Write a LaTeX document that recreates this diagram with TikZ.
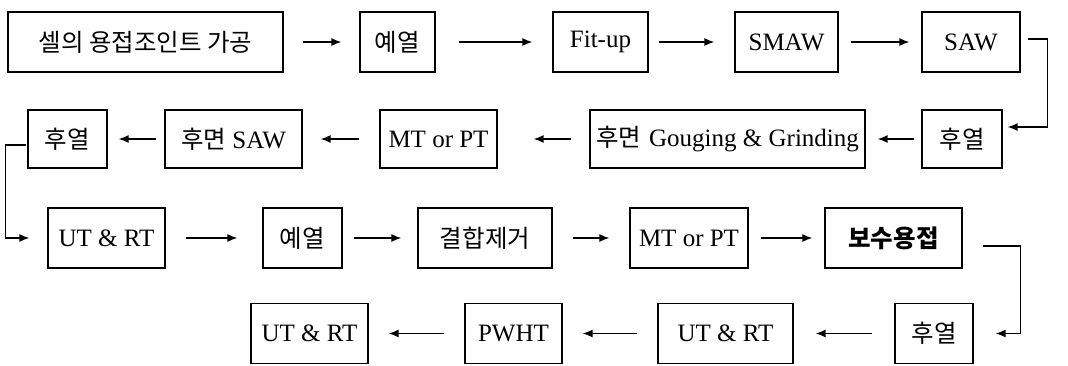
\documentclass[tikz,border=0pt]{standalone}
\usepackage{fontspec}
\setmainfont{Liberation Serif}
\newfontfamily\krfont[Scale=0.98]{Noto Sans CJK KR}
\usepackage{tikz}
\usetikzlibrary{arrows.meta,positioning}
\newcommand{\kor}[1]{{\krfont #1}}

\tikzset{
  stage/.style={draw, line width=1.2pt, inner sep=0pt, align=center,
    minimum height=60, font=\fontsize{25}{27}\selectfont},
  flow/.style={line width=1.5pt, -{Latex[length=10pt,width=8pt]}}
}

\begin{document}
\begin{tikzpicture}[x=1pt,y=-1pt]

\useasboundingbox (0,0) rectangle (1068,365);

% row 1
\node[stage, minimum width=275] (cut)   at (145.5,42) {\kor{셀의 용접조인트 가공}};
\node[stage, minimum width=75]  (pre1)  at (397.5,42) {\kor{예열}};
\node[stage, minimum width=95]  (fit)   at (600.5,42) {Fit-up};
\node[stage, minimum width=103] (smaw)  at (786.5,42) {SMAW};
\node[stage, minimum width=98]  (saw)   at (971,42)   {SAW};

% row 2
\node[stage, minimum width=80, minimum height=58]  (post1) at (962,139)   {\kor{후열}};
\node[stage, minimum width=275, minimum height=58] (goug)  at (727.5,139) {\kor{후면}\hspace{8pt}Gouging \& Grinding};
\node[stage, minimum width=117, minimum height=58] (mtpt1) at (438.5,139) {MT or PT};
\node[stage, minimum width=137, minimum height=58] (bsaw)  at (233.5,139) {\kor{후면} SAW};
\node[stage, minimum width=79, minimum height=58]  (post2) at (67.5,139)  {\kor{후열}};

% row 3
\node[stage, minimum width=117] (utrt1)  at (106.5,238) {UT \& RT};
\node[stage, minimum width=79]  (pre2)   at (302.5,238) {\kor{예열}};
\node[stage, minimum width=134] (defect) at (485,238)   {\kor{결합제거}};
\node[stage, minimum width=118] (mtpt2)  at (689,238)   {MT or PT};
\node[stage, minimum width=137] (repair) at (893.5,238) {\kor{\bfseries 보수용접}};

% row 4
\node[stage, minimum width=78]  (post3) at (934,333.5)   {\kor{후열}};
\node[stage, minimum width=135] (utrt2) at (725.5,333.5) {UT \& RT};
\node[stage, minimum width=97]  (pwht)  at (513.5,333.5) {PWHT};
\node[stage, minimum width=117] (utrt3) at (309.5,333.5) {UT \& RT};

\draw[flow, shorten <=19pt, shorten >=18pt] (cut) -- (pre1);
\draw[flow, shorten <=23pt, shorten >=20pt] (pre1) -- (fit);
\draw[flow, shorten <=10pt, shorten >=20pt] (fit) -- (smaw);
\draw[flow, shorten <=12pt, shorten >=12pt] (smaw) -- (saw);
\draw[flow] ([xshift=7pt,yshift=3pt]saw.east) -- ++(20,0) |- ([xshift=5pt,yshift=12pt]post1.east);

\draw[flow, shorten <=7pt, shorten >=12pt]  (post1) -- (goug);
\draw[flow, shorten <=18pt, shorten >=36pt] (goug) -- (mtpt1);
\draw[flow, shorten <=20pt, shorten >=18pt] (mtpt1) -- (bsaw);
\draw[flow, shorten <=8pt, shorten >=11pt]  (bsaw) -- (post2);
\draw[flow] ([xshift=-1pt,yshift=-6pt]post2.west) -- ++(-21,0) |- ([xshift=-18pt]utrt1.west);

\draw[flow, shorten <=20pt, shorten >=25pt] (utrt1) -- (pre2);
\draw[flow, shorten <=11pt, shorten >=16pt] (pre2) -- (defect);
\draw[flow, shorten <=20pt, shorten >=20pt] (defect) -- (mtpt2);
\draw[flow, shorten <=12pt, shorten >=12pt] (mtpt2) -- (repair);
\draw[flow] ([xshift=20pt,yshift=-8pt]repair.east) -- ++(38,0) |- ([xshift=22pt]post3.east);

\draw[flow, shorten <=22pt, shorten >=22pt] (post3) -- (utrt2);
\draw[flow, shorten <=20pt, shorten >=20pt] (utrt2) -- (pwht);
\draw[flow, shorten <=20pt, shorten >=20pt] (pwht) -- (utrt3);

\end{tikzpicture}
\end{document}
